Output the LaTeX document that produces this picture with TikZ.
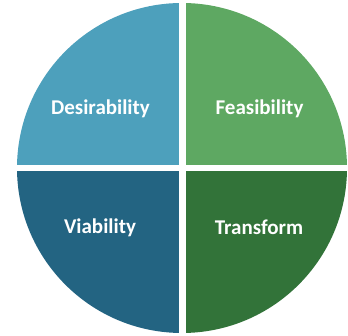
\documentclass[tikz,border=0pt]{standalone}
\usepackage{fontspec}
\setmainfont{Carlito}
\definecolor{qdesire}{HTML}{4DA0BC}
\definecolor{qfeas}{HTML}{5EA862}
\definecolor{qviab}{HTML}{236482}
\definecolor{qtrans}{HTML}{327339}
\begin{document}
\begin{tikzpicture}[x=1pt,y=1pt,
  label/.style={text=white,font=\fontsize{21}{23}\selectfont\bfseries,inner sep=0pt}]
\useasboundingbox (0,0) rectangle (348,336);
\coordinate (c) at (182,168);
% four quadrants of the circle
\fill[qdesire] (c) -- ++(-165,0) arc (180:90:165) -- cycle;
\fill[qfeas]   (c) -- ++(0,165) arc (90:0:165) -- cycle;
\fill[qtrans]  (c) -- ++(165,0) arc (0:-90:165) -- cycle;
\fill[qviab]   (c) -- ++(0,-165) arc (-90:-180:165) -- cycle;
% white separating gaps
\fill[white] (178.5,0) rectangle (185.5,336);
\fill[white] (0,164.6) rectangle (348,171.3);
% labels
\node[label] (des) at (100.5,227) {Desirability};
\node[label] (fea) at (259.5,227) {Feasibility};
\node[label] (via) at (100,108) {Viability};
\node[label] (tra) at (259,109) {Transform};
\end{tikzpicture}
\end{document}
